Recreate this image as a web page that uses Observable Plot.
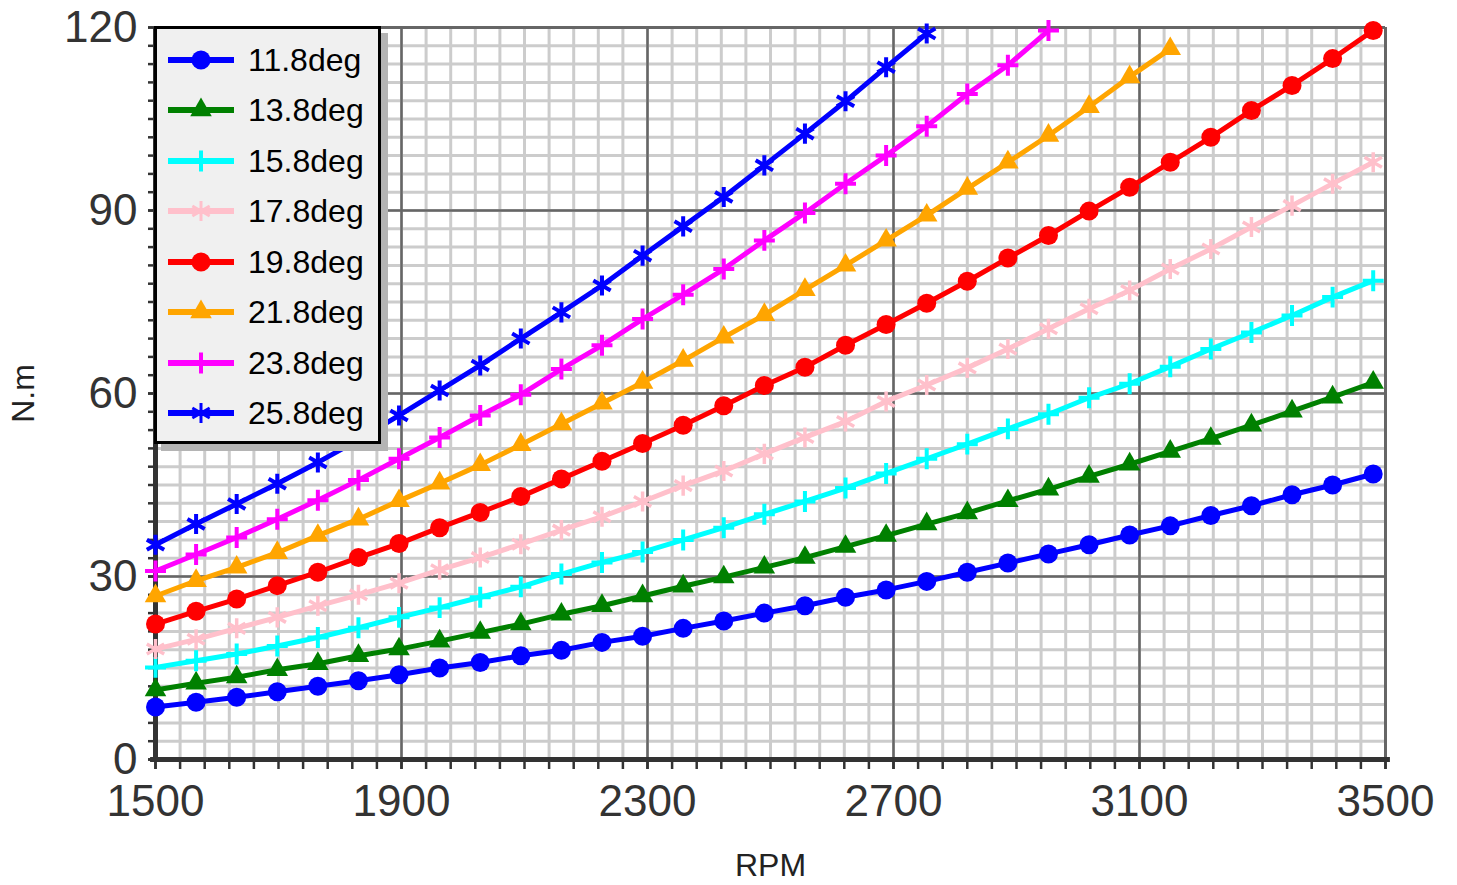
<!DOCTYPE html>
<html><head><meta charset="utf-8">
<script src="https://cdn.jsdelivr.net/npm/d3@7"></script>
<script src="https://cdn.jsdelivr.net/npm/@observablehq/plot@0.6"></script>
<style>
body{margin:0;background:#fff;font-family:"Liberation Sans",Arial,sans-serif;}
#wrap{position:relative;width:1457px;height:885px;overflow:hidden;}
#legend{position:absolute;left:154px;top:26px;width:227px;height:418px;box-sizing:border-box;border:3px solid #000;background:#f0f0f0;box-shadow:7px 7px 0 #b4b4b4;}
.lrow{position:absolute;left:0;height:40px;}
.lrow svg{position:absolute;left:10px;top:0;}
.lrow span{position:absolute;left:91px;top:0;line-height:40px;font-size:32px;color:#000;white-space:nowrap;}
</style></head><body><div id="wrap"></div>
<script>
// RPM sample points
const rpm = [1500,1566,1632,1698,1764,1830,1896,1962,2028,2094,2160,2226,2292,2358,2424,2490,2556,2622,2688,2754,2820,2886,2952,3018,3084,3150,3216,3282,3348,3414,3480];
const seriesNames = ["11.8deg","13.8deg","15.8deg","17.8deg","19.8deg","21.8deg","23.8deg","25.8deg"];
const seriesColors = ["#0000ff","#008000","#00ffff","#ffc0cb","#ff0000","#ffa500","#ff00ff","#0000ff"];
const seriesSymbols = ["circle","triangle","plus","asterisk","circle","triangle","plus","asterisk"];
// torque values (N.m)
const t11_8 = [8.6,9.4,10.2,11.1,12.0,12.9,13.9,15.0,15.9,17.0,17.9,19.2,20.2,21.5,22.7,24.0,25.2,26.6,27.8,29.2,30.7,32.2,33.7,35.2,36.8,38.3,40.0,41.6,43.4,45.0,46.8];
const t13_8 = [11.4,12.5,13.5,14.7,15.7,17.0,18.1,19.4,20.8,22.2,23.8,25.2,26.8,28.4,29.9,31.5,33.1,34.9,36.7,38.6,40.4,42.4,44.3,46.4,48.4,50.5,52.6,54.8,57.1,59.4,61.8];
const t15_8 = [15.1,16.2,17.3,18.6,20.0,21.6,23.3,24.9,26.6,28.3,30.4,32.3,34.0,36.0,38.0,40.2,42.3,44.5,46.9,49.3,51.7,54.2,56.6,59.3,61.6,64.4,67.3,70.0,72.8,75.8,78.5];
const t17_8 = [18.1,19.7,21.5,23.3,25.2,27.0,28.9,31.1,33.1,35.3,37.6,39.8,42.3,44.9,47.3,50.1,52.8,55.4,58.7,61.4,64.2,67.3,70.6,73.9,76.9,80.4,83.7,87.3,90.8,94.4,97.9];
const t19_8 = [22.2,24.3,26.3,28.5,30.7,33.1,35.4,38.0,40.5,43.1,46.0,48.9,51.8,54.8,58.0,61.3,64.3,67.9,71.3,74.8,78.4,82.2,85.9,89.9,93.8,97.9,102.0,106.4,110.5,114.9,119.5];
const t21_8 = [26.8,29.3,31.5,33.9,36.7,39.4,42.4,45.3,48.3,51.6,55.0,58.4,61.8,65.4,69.2,72.9,77.0,81.0,85.1,89.2,93.6,97.9,102.3,107.0,111.9,116.5];
const t23_8 = [30.9,33.6,36.4,39.4,42.5,45.8,49.3,52.8,56.4,59.8,64.0,67.9,72.2,76.2,80.4,85.1,89.6,94.4,99.0,103.8,109.1,113.8,119.5];
const t25_8 = [35.2,38.6,41.9,45.2,48.7,52.4,56.4,60.5,64.6,69.0,73.3,77.7,82.6,87.4,92.2,97.4,102.6,107.9,113.5,119.0];
const seriesValues = [t11_8,t13_8,t15_8,t17_8,t19_8,t21_8,t23_8,t25_8];
// ticks
const xTicks = [1500,1900,2300,2700,3100,3500];
const yTicks = [0,30,60,90,120];
const xMinor = d3.range(1500, 3501, 40);
const yMinor = d3.range(0, 121, 3);

const data = seriesNames.flatMap((name, k) =>
  seriesValues[k].map((v, i) => ({rpm: rpm[i], torque: v, series: name})));

const font = "Liberation Sans, Arial, sans-serif";
const dotMarks = seriesNames.map((name, k) => {
  const sym = seriesSymbols[k];
  const rows = data.filter(d => d.series === name);
  if (sym === "circle") return Plot.dot(rows, {x: "rpm", y: "torque", symbol: "circle", r: 9.5, fill: seriesColors[k], stroke: "none"});
  if (sym === "triangle") return Plot.dot(rows, {x: "rpm", y: "torque", symbol: "triangle", r: 8, fill: seriesColors[k], stroke: "none"});
  if (sym === "plus") return Plot.dot(rows, {x: "rpm", y: "torque", symbol: "plus", r: 6.8, stroke: seriesColors[k], strokeWidth: 4, fill: "none"});
  return Plot.dot(rows, {x: "rpm", y: "torque", symbol: "asterisk", r: 9.5, stroke: seriesColors[k], strokeWidth: k === 7 ? 4 : 3.5, fill: "none"});
});

const chart = Plot.plot({
  width: 1457, height: 885,
  marginLeft: 155, marginRight: 72, marginTop: 27, marginBottom: 126,
  x: {domain: [1500, 3500]},
  y: {domain: [0, 120]},
  color: {domain: seriesNames, range: seriesColors},
  style: {fontFamily: font, background: "white", color: "#333", overflow: "visible"},
  marks: [
    Plot.ruleX(xMinor, {stroke: "#cccccc", strokeWidth: 3}),
    Plot.ruleY(yMinor, {stroke: "#cccccc", strokeWidth: 3}),
    Plot.ruleX(xTicks, {stroke: "#666666", strokeWidth: 2.5}),
    Plot.ruleY(yTicks, {stroke: "#666666", strokeWidth: 2.5}),
    Plot.ruleX([3500], {stroke: "#666666", strokeWidth: 3}),
    Plot.ruleY([120], {stroke: "#666666", strokeWidth: 3}),
    Plot.axisX(xMinor, {tickSize: 10, tickFormat: () => "", strokeWidth: 2.5, stroke: "#333", label: null}),
    Plot.axisY(yMinor, {tickSize: 7, tickFormat: () => "", strokeWidth: 2.5, stroke: "#333", label: null}),
    Plot.axisX(xTicks, {tickSize: 10, tickPadding: 15, fontSize: 44, strokeWidth: 2.5, stroke: "#333", fill: "#333", label: null, tickFormat: d => String(d)}),
    Plot.axisY(yTicks, {tickSize: 7, tickPadding: 11, fontSize: 44, strokeWidth: 2.5, stroke: "#333", fill: "#333", label: null}),
    Plot.ruleY([0], {stroke: "#333", strokeWidth: 5, x1: 1492, x2: 3508}),
    Plot.ruleX([1500], {stroke: "#333", strokeWidth: 5}),
    Plot.line(data, {x: "rpm", y: "torque", z: "series", stroke: "series", strokeWidth: 5, strokeLinejoin: "round"}),
    ...dotMarks,
    Plot.text(["RPM"], {frameAnchor: "bottom", dy: 106, textAnchor: "middle", lineAnchor: "middle", fontSize: 32, fill: "#222"}),
    Plot.text(["N.m"], {frameAnchor: "left", dx: -132, rotate: -90, textAnchor: "middle", lineAnchor: "middle", fontSize: 32, fill: "#222"})
  ]
});
const wrap = document.getElementById("wrap");
wrap.appendChild(chart);

// legend
const legend = document.createElement("div");
legend.id = "legend";
wrap.appendChild(legend);
const rowCenters = [59.5, 110, 160.5, 211, 261.5, 312, 362.5, 413];
seriesNames.forEach((name, k) => {
  const row = document.createElement("div");
  row.className = "lrow";
  row.style.top = (rowCenters[k] - 29 - 20) + "px";
  row.style.width = "220px";
  const svg = d3.create("svg").attr("width", 70).attr("height", 40);
  svg.append("line").attr("x1", 1).attr("x2", 67).attr("y1", 20).attr("y2", 20)
    .attr("stroke", seriesColors[k]).attr("stroke-width", 6);
  const sym = seriesSymbols[k];
  const typeMap = {circle: d3.symbolCircle, triangle: d3.symbolTriangle, plus: d3.symbolPlus, asterisk: d3.symbolAsterisk};
  const rr = sym === "circle" ? 9.5 : sym === "triangle" ? 8 : sym === "plus" ? 6.8 : 9.5;
  const p = svg.append("path").attr("transform", "translate(34,20)")
    .attr("d", d3.symbol(typeMap[sym], Math.PI * rr * rr)());
  if (sym === "circle" || sym === "triangle") p.attr("fill", seriesColors[k]);
  else p.attr("fill", "none").attr("stroke", seriesColors[k]).attr("stroke-width", sym === "plus" ? 4 : 3);
  row.appendChild(svg.node());
  const span = document.createElement("span");
  span.textContent = name;
  row.appendChild(span);
  legend.appendChild(row);
});
</script>
</body></html>
